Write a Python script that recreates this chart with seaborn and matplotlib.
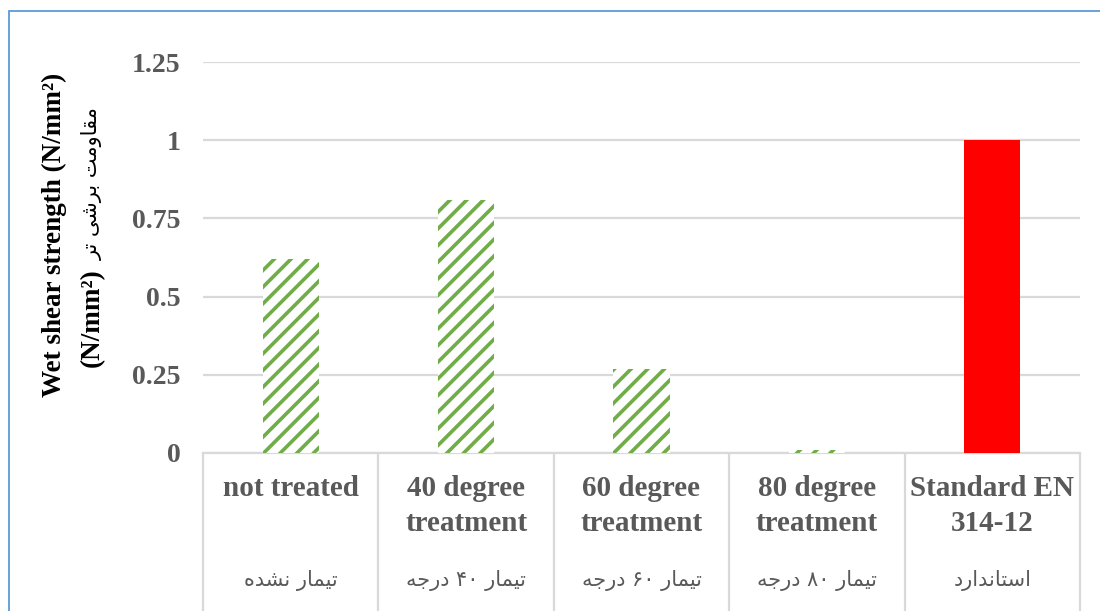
import matplotlib
matplotlib.use('Agg')
import matplotlib.pyplot as plt
import seaborn as sns
import pandas as pd
from matplotlib.patches import Rectangle

# ---------------- data ----------------
categories_en = ["not treated", "40 degree\ntreatment", "60 degree\ntreatment",
                 "80 degree\ntreatment", "Standard EN\n314-12"]
categories_fa = ["تیمار نشده", "تیمار ۴۰ درجه", "تیمار ۶۰ درجه", "تیمار ۸۰ درجه", "استاندارد"]
values = [0.62, 0.81, 0.27, 0.01, 1.0]
hatched = [True, True, True, True, False]
yticks = [0, 0.25, 0.5, 0.75, 1, 1.25]
ytick_labels = ["0", "0.25", "0.5", "0.75", "1", "1.25"]
ylabel_en = "Wet shear strength (N/mm²)"
ylabel_unit = "(N/mm²)"
ylabel_fa = "مقاومت برشی تر"

# --------- minimal Persian shaping (matplotlib has no RTL shaping) ---------
FORMS = {
    'ا': ('\uFE8D', '\uFE8E', None, None),
    'ب': ('\uFE8F', '\uFE90', '\uFE91', '\uFE92'),
    'ت': ('\uFE95', '\uFE96', '\uFE97', '\uFE98'),
    'ج': ('\uFE9D', '\uFE9E', '\uFE9F', '\uFEA0'),
    'د': ('\uFEA9', '\uFEAA', None, None),
    'ر': ('\uFEAD', '\uFEAE', None, None),
    'س': ('\uFEB1', '\uFEB2', '\uFEB3', '\uFEB4'),
    'ش': ('\uFEB5', '\uFEB6', '\uFEB7', '\uFEB8'),
    'ق': ('\uFED5', '\uFED6', '\uFED7', '\uFED8'),
    'م': ('\uFEE1', '\uFEE2', '\uFEE3', '\uFEE4'),
    'ن': ('\uFEE5', '\uFEE6', '\uFEE7', '\uFEE8'),
    'ه': ('\uFEE9', '\uFEEA', '\uFEEB', '\uFEEC'),
    'و': ('\uFEED', '\uFEEE', None, None),
    'ی': ('\uFBFC', '\uFBFD', '\uFBFE', '\uFBFF'),
}


def shape_word(w):
    out = []
    for i, c in enumerate(w):
        if c not in FORMS:
            out.append(c)
            continue
        prev = w[i - 1] if i > 0 else None
        nxt = w[i + 1] if i < len(w) - 1 else None
        jp = prev in FORMS and FORMS[prev][2] is not None
        jn = nxt in FORMS and FORMS[c][2] is not None
        iso, fin, ini, med = FORMS[c]
        if jp and jn:
            out.append(med)
        elif jp:
            out.append(fin)
        elif jn:
            out.append(ini)
        else:
            out.append(iso)
    return out


def fa(text):
    words = []
    for w in text.split(' '):
        if any(c in FORMS for c in w):
            words.append(''.join(reversed(shape_word(w))))
        else:
            words.append(w)
    return ' '.join(reversed(words))


# ---------------- plot ----------------
sns.set_style("white")
plt.rcParams['hatch.linewidth'] = 2.6
SERIF = ['Liberation Serif', 'DejaVu Serif']
FAFONT = ['DejaVu Sans']
GREY = '#595959'
GRID = '#d9d9d9'
GREEN = '#70ad47'
RED = '#ff0000'

fig = plt.figure(figsize=(11, 6.11), dpi=100)
ax = fig.add_axes([203 / 1100, 158 / 611, 877 / 1100, 391 / 611])

df = pd.DataFrame({"cat": categories_en, "val": values})
sns.barplot(data=df, x="cat", y="val", ax=ax, width=0.32, color=RED,
            saturation=1, errorbar=None)

for p, h in zip(ax.patches, hatched):
    if h:
        p.set_facecolor('white')
        p.set_edgecolor(GREEN)
        p.set_hatch('//')
        p.set_linewidth(0)
    else:
        p.set_facecolor(RED)
        p.set_edgecolor(RED)
        p.set_linewidth(0)
    p.set_zorder(3)

ax.set_xlim(-0.5, len(categories_en) - 0.5)
ax.set_ylim(0, 1.25)
ax.set_yticks(yticks)
ax.set_yticklabels(ytick_labels, fontfamily=SERIF, fontweight='bold',
                   fontsize=20, color=GREY)
ax.tick_params(axis='y', length=0, pad=16)
ax.set_xticks([])
ax.set_xlabel('')
ax.set_ylabel('')

for yv in yticks:
    ax.axhline(yv, color=GRID, lw=1.6, zorder=1)

for s in ['top', 'right', 'left']:
    ax.spines[s].set_visible(False)
ax.spines['bottom'].set_color(GRID)
ax.spines['bottom'].set_linewidth(1.6)

# category separators below the axis
for i in range(len(categories_en) + 1):
    ax.plot([(i) / len(categories_en)] * 2, [0, -0.6], transform=ax.transAxes,
            color=GRID, lw=1.6, clip_on=False, zorder=1)

# category labels
trans = ax.get_xaxis_transform()
for i, (en, fa_lbl) in enumerate(zip(categories_en, categories_fa)):
    ax.text(i, -0.057, en, transform=trans, ha='center', va='top',
            fontfamily=SERIF, fontweight='bold', fontsize=21, color=GREY,
            linespacing=1.38)
    ax.text(i, -0.327, fa(fa_lbl), transform=trans, ha='center', va='center',
            fontfamily=FAFONT, fontsize=15, color=GREY)

# y-axis title
fig.text(54 / 1100, 1 - 235 / 611, ylabel_en, rotation=90, ha='center', va='center',
         fontfamily=SERIF, fontweight='bold', fontsize=19.5, color='black')
fig.text(92 / 1100, 1 - 318 / 611, ylabel_unit, rotation=90, ha='center', va='center',
         fontfamily=SERIF, fontweight='bold', fontsize=19.5, color='black')
fig.text(92 / 1100, 1 - 184 / 611, fa(ylabel_fa), rotation=90, ha='center', va='center',
         fontfamily=FAFONT, fontsize=15, color='black')

# outer chart border (partially visible)
fig.patches.append(Rectangle((9 / 1100, -0.2), 1.2, 1.2 - 11 / 611, transform=fig.transFigure,
                             fill=False, edgecolor='#5b9bd5', lw=1.3, zorder=0))

fig.savefig('out.png', dpi=100)
